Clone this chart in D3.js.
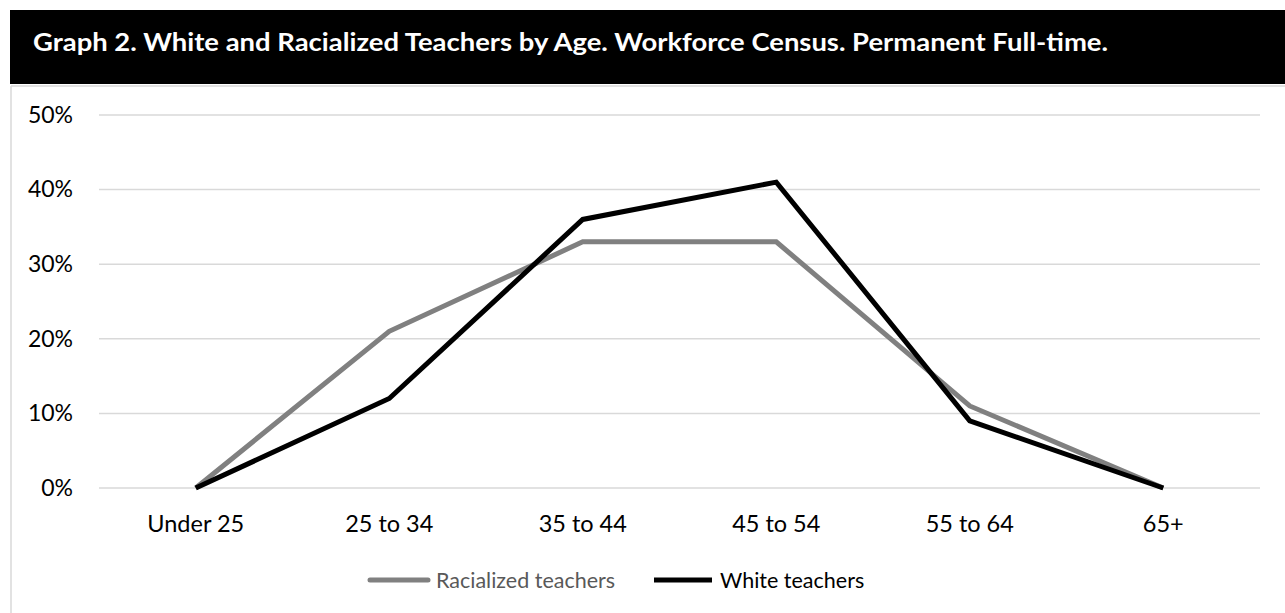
<!DOCTYPE html>
<html>
<head>
  <meta charset="utf-8">
  <title>Graph 2</title>
  <style>
    body { margin: 0; background: #fff; }
    text { font-family: Lato, "Open Sans", sans-serif; }
  </style>
</head>
<body>
  <div id='chart'></div>
  <script src="https://d3js.org/d3.v7.min.js"></script>
  <script>

    function translate(x, y) {
      return 'translate(' + x + ',' + y + ')';
    }

    // data
    let categories = ['Under 25', '25 to 34', '35 to 44', '45 to 54', '55 to 64', '65+'];
    let racialized = [0, 21, 33, 33, 11, 0];
    let white = [0, 12, 36, 41, 9, 0];
    let yTicks = [0, 10, 20, 30, 40, 50];
    let seriesNames = ['Racialized teachers', 'White teachers'];
    let seriesColors = ['#808080', '#000000'];

    let svgWidth = 1285;
    let svgHeight = 613;
    let margin = {top: 115, right: 25, bottom: 125, left: 99};
    let width = svgWidth - margin.left - margin.right;
    let height = svgHeight - margin.top - margin.bottom;

    let root = d3.select('#chart')
      .append('svg')
      .attr('width', svgWidth)
      .attr('height', svgHeight);

    // title bar
    root.append('rect')
      .attr('x', 10).attr('y', 10)
      .attr('width', svgWidth - 10).attr('height', 74)
      .style('fill', '#000');
    root.append('text')
      .attr('x', 33).attr('y', 51)
      .attr('textLength', 1075)
      .attr('lengthAdjust', 'spacingAndGlyphs')
      .style('fill', '#fff')
      .style('font-size', '25.5px')
      .style('font-weight', 'bold')
      .text('Graph 2. White and Racialized Teachers by Age. Workforce Census. Permanent Full-time.');

    // frame lines
    root.append('line')
      .attr('x1', 11).attr('x2', svgWidth).attr('y1', 86).attr('y2', 86)
      .style('stroke', '#d9d9d9').style('stroke-width', 1.5);
    root.append('line')
      .attr('x1', 11).attr('x2', 11).attr('y1', 86).attr('y2', svgHeight)
      .style('stroke', '#d9d9d9').style('stroke-width', 1.5);

    let svg = root.append('g')
      .attr('transform', translate(margin.left, margin.top));

    let x = d3.scaleBand()
      .domain(categories)
      .range([0, width]);

    let y = d3.scaleLinear()
      .domain([0, 50])
      .range([height, 0]);

    // gridlines
    svg.selectAll('.grid')
      .data(yTicks)
      .enter()
      .append('line')
      .attr('class', 'grid')
      .attr('x1', 0).attr('x2', width)
      .attr('y1', d => y(d)).attr('y2', d => y(d))
      .style('stroke', '#d9d9d9')
      .style('stroke-width', 1.5);

    let yAxis = svg.append('g')
      .call(d3.axisLeft(y).tickValues(yTicks).tickFormat(d => d + '%').tickSize(0).tickPadding(26));
    yAxis.select('.domain').remove();
    yAxis.selectAll('text')
      .style('font-size', '23px')
      .style('fill', '#000');

    let xAxis = svg.append('g')
      .attr('transform', translate(0, height))
      .call(d3.axisBottom(x).tickSize(0).tickPadding(27));
    xAxis.select('.domain').remove();
    xAxis.selectAll('text')
      .style('font-size', '23.5px')
      .style('fill', '#000');

    let line = d3.line()
      .x((d, i) => x(categories[i]) + x.bandwidth() / 2)
      .y(d => y(d));

    [racialized, white].forEach(function(values, k) {
      svg.append('path')
        .datum(values)
        .attr('d', line)
        .style('fill', 'none')
        .style('stroke', seriesColors[k])
        .style('stroke-width', 5)
        .style('stroke-linejoin', 'miter');
    });

    // legend
    let legendX = [370, 654];
    let legendY = 580;
    seriesNames.forEach(function(name, k) {
      root.append('line')
        .attr('x1', legendX[k]).attr('x2', legendX[k] + 58)
        .attr('y1', legendY).attr('y2', legendY)
        .style('stroke', seriesColors[k])
        .style('stroke-width', 5)
        .style('stroke-linecap', k === 0 ? 'round' : 'butt');
      root.append('text')
        .attr('x', legendX[k] + 66)
        .attr('y', legendY)
        .attr('dy', '0.35em')
        .style('font-size', '21.5px')
        .style('fill', k === 0 ? '#595959' : '#000')
        .text(name);
    });

  </script>
</body>
</html>
